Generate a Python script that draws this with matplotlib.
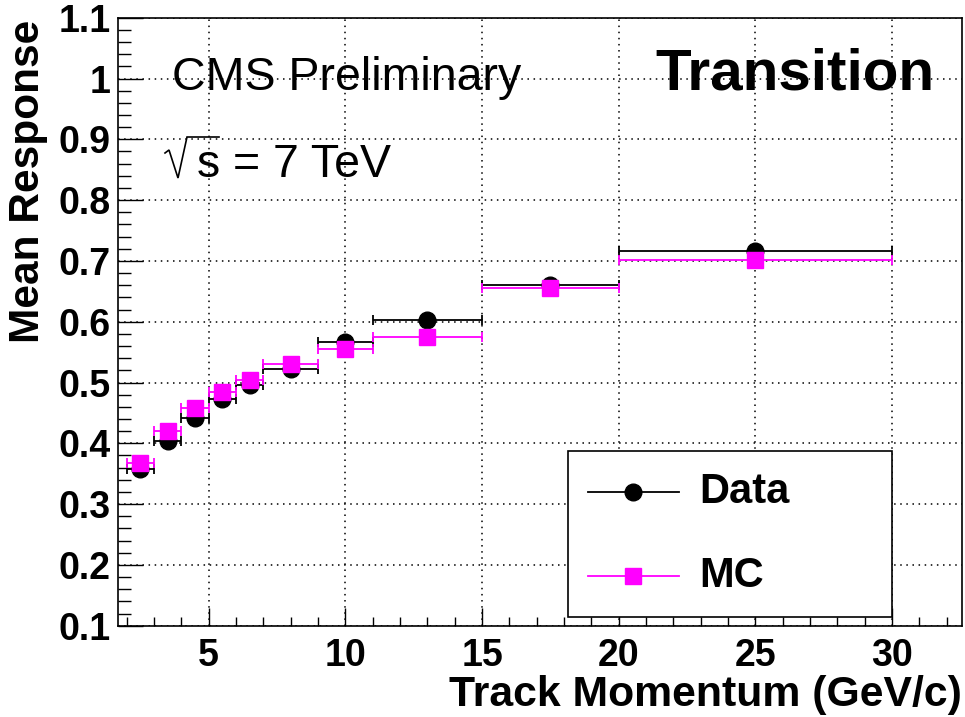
import numpy as np
import matplotlib
matplotlib.use("Agg")
import matplotlib.pyplot as plt
from matplotlib.patches import Rectangle
from matplotlib.lines import Line2D
from matplotlib.ticker import MultipleLocator, FormatStrFormatter

plt.rcParams["font.family"] = ["Liberation Sans", "DejaVu Sans"]

# --- data: momentum bins (GeV/c) and mean response ---
bin_lo = np.array([2, 3, 4, 5, 6, 7, 9, 11, 15, 20])
bin_hi = np.array([3, 4, 5, 6, 7, 9, 11, 15, 20, 30])
data_resp = np.array([0.357, 0.404, 0.442, 0.473, 0.496, 0.523, 0.567, 0.602, 0.661, 0.716])
mc_resp   = np.array([0.367, 0.420, 0.458, 0.484, 0.504, 0.530, 0.555, 0.575, 0.656, 0.702])

MAGENTA = "#ff00ff"
W, H = 965, 717

fig = plt.figure(figsize=(W / 100, H / 100), dpi=100)
ax = fig.add_axes([117.7 / W, 1 - 625.7 / H, 844 / W, 608 / H])

centers = 0.5 * (bin_lo + bin_hi)
xerr = [centers - bin_lo, bin_hi - centers]

ax.errorbar(centers, data_resp, xerr=xerr, fmt="o", color="black", ms=12,
            lw=1.3, capsize=3.5, capthick=1.3, zorder=3)
ax.errorbar(centers, mc_resp, xerr=xerr, fmt="s", color=MAGENTA, ms=11.5,
            lw=1.3, capsize=3.5, capthick=1.3, zorder=4)

ax.set_xlim(1.67, 32.55)
ax.set_ylim(0.1, 1.1)

ax.xaxis.set_major_locator(MultipleLocator(5))
ax.xaxis.set_minor_locator(MultipleLocator(1))
ax.yaxis.set_major_locator(MultipleLocator(0.1))
ax.yaxis.set_minor_locator(MultipleLocator(0.02))
ax.yaxis.set_major_formatter(FormatStrFormatter("%g"))
ax.xaxis.set_major_formatter(FormatStrFormatter("%g"))

ax.tick_params(axis="both", which="both", direction="in", width=1.0,
               top=False, right=False)
ax.tick_params(axis="y", which="major", length=18, pad=5, labelsize=27)
ax.tick_params(axis="y", which="minor", length=9)
ax.tick_params(axis="x", which="major", length=13, pad=9, labelsize=27)
ax.tick_params(axis="x", which="minor", length=6.5)
for lab in ax.get_xticklabels() + ax.get_yticklabels():
    lab.set_fontweight("bold")

ax.grid(True, which="major", color="black", linestyle=(0, (1, 3)), lw=1.1)
ax.set_axisbelow(True)
for sp in ax.spines.values():
    sp.set_linewidth(1.2)

# axis titles (ROOT style, right/top aligned)
fig.text(961.7 / W, 1 - 695 / H, "Track Momentum (GeV/c)", ha="right",
         va="center", fontsize=30.8, fontweight="bold")
fig.text(28 / W, 1 - 20 / H, "Mean Response", rotation=90, ha="center",
         va="top", fontsize=30.5, fontweight="bold")

# annotations
fig.text(172 / W, 1 - 90 / H, "CMS Preliminary", ha="left", va="baseline",
         fontsize=33.5)
fig.text(655 / W, 1 - 89 / H, "Transition", ha="left", va="baseline",
         fontsize=42, fontweight="bold")

# sqrt(s) = 7 TeV : hand-drawn radical sign followed by text
fig.text(197 / W, 1 - 177 / H, "s = 7 TeV", ha="left", va="baseline",
         fontsize=33.5)
rad_x = np.array([165, 169, 178, 187, 219]) / W
rad_y = 1 - np.array([153, 150, 178, 137, 137]) / H
fig.add_artist(Line2D(rad_x, rad_y, color="black", lw=1.2,
                      solid_joinstyle="miter", transform=fig.transFigure))

# legend box drawn ROOT-like
ax.add_patch(Rectangle((0.534, 0.0148), 0.918 - 0.534, 0.2873 - 0.0148,
                       transform=ax.transAxes, facecolor="white",
                       edgecolor="black", lw=1.2, zorder=6))
for yy, col, mk, ms, label in [(0.2199, "black", "o", 12, "Data"),
                               (0.0822, MAGENTA, "s", 11.5, "MC")]:
    ax.add_line(Line2D([0.557, 0.665], [yy, yy], color=col, lw=1.3,
                       transform=ax.transAxes, zorder=7))
    ax.add_line(Line2D([0.6106], [yy], color=col, marker=mk, ms=ms, lw=0,
                       transform=ax.transAxes, zorder=8))
    ax.text(0.6888, yy, label, transform=ax.transAxes, ha="left", va="center",
            fontsize=30, fontweight="bold", zorder=8)

fig.savefig("out.png", dpi=100)
